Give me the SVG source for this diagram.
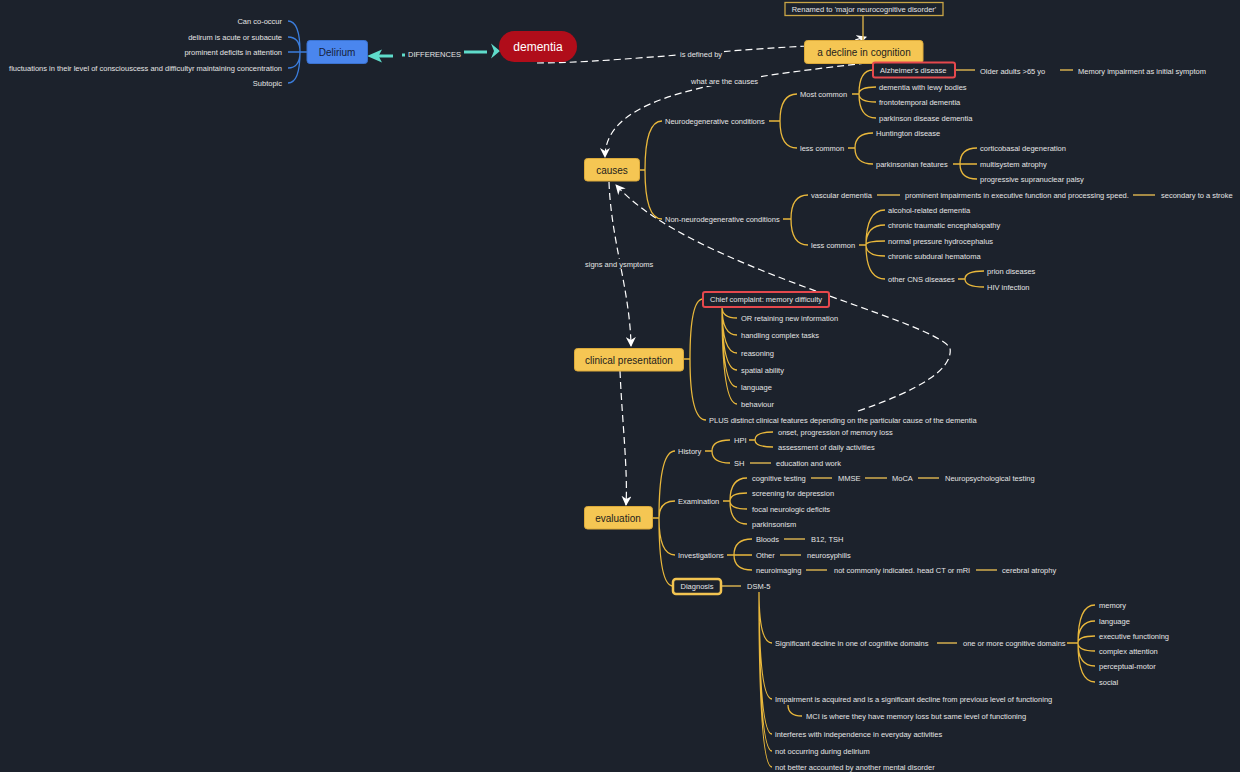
<svg xmlns="http://www.w3.org/2000/svg" width="1240" height="772" viewBox="0 0 1240 772">
<style>
.t{font-family:"Liberation Sans",Arial,sans-serif;font-size:7.5px;fill:#e4e4e4;dominant-baseline:central}
.te{text-anchor:end}
.c{fill:none;stroke:#e9b83c;stroke-width:1.3}
.s{fill:none;stroke:#a58a45;stroke-width:2}
.b{fill:none;stroke:#3b7ddc;stroke-width:1.3}
.r{fill:none;stroke:#fff;stroke-width:1.2;stroke-dasharray:7 4}
.tl{fill:none;stroke:#5fdccb;stroke-width:3}
.box{fill:#f5c653;stroke:#dcaa3a;stroke-width:1}
.bt{font-family:"Liberation Sans",Arial,sans-serif;font-size:10px;fill:#1d1d1d;text-anchor:middle;dominant-baseline:central}
.red{fill:#1c222c;stroke:#e5484d;stroke-width:2}
.bg{fill:#1c222c}
</style>
<defs>
<marker id="ar" markerUnits="userSpaceOnUse" markerWidth="10" markerHeight="10" refX="9" refY="5" orient="auto">
<path d="M0,0 L10,5 L0,10 L3,5 z" fill="#fff"/>
</marker>
</defs>
<rect width="1240" height="772" fill="#1c222c"/>

<g id="connectors">
<!-- relationships -->
<path class="r" d="M537 63 C600 63 700 52 806 46 Q852 42 866 37" marker-end="url(#ar)"/>
<path class="r" d="M866 63 C720 80 605 95 605 157" marker-end="url(#ar)"/>
<path class="r" d="M609 182 C611 240 630 290 631 346" marker-end="url(#ar)"/>
<path class="r" d="M620 371 C622 420 628 470 626 505" marker-end="url(#ar)"/>
<path class="r" d="M858 411 Q955 378 950 348 C930 318 690 268 616 185" marker-end="url(#ar)"/>
<!-- teal differences -->
<path class="tl" d="M378 56 H393 M402 55 H407 M464 52 H487"/>
<polygon points="367,56 382,49.5 378.5,56 382,62.5" fill="#5fdccb"/>
<polygon points="500,51 491,43.5 494,51 491,58.5" fill="#5fdccb"/>
<!-- renamed -->
<path d="M863 15 V40" stroke="#c9a546" stroke-width="1.5"/>
<!-- delirium -->
<path class="b" d="M307 52 H300 M300 52 Q300 21 288 21 M300 52 Q300 37 288 37 M300 52 H288 M300 52 Q300 68 288 68 M300 52 Q300 83 288 83"/>
<!-- causes -->
<path class="c" d="M639 170 H645 M645 170 Q645 121 662 121 M645 170 Q645 219 662 219"/>
<path class="c" d="M769 121 H780 M780 121 Q780 94 797 94 M780 121 Q780 148 797 148"/>
<path class="c" d="M852 94 H859 M859 94 Q859 70 873 70 M859 94 Q859 87 876 87 M859 94 Q859 102 876 102 M859 94 Q859 118 876 118"/>
<path class="s" d="M956 70 H975 M1060 70 H1073"/>
<path class="c" d="M848 148 H855 M855 148 Q855 133 873 133 M855 148 Q855 164 873 164"/>
<path class="c" d="M953 164 H960 M960 164 Q960 148 977 148 M960 164 H977 M960 164 Q960 179 977 179"/>
<path class="c" d="M783 219 H791 M791 219 Q791 195 808 195 M791 219 Q791 245 808 245"/>
<path class="s" d="M877 195 H900 M1133 195 H1155"/>
<path class="c" d="M859 245 H866 M866 245 Q866 210 885 210 M866 245 Q866 225 885 225 M866 245 Q866 241 885 241 M866 245 Q866 256 885 256 M866 245 Q866 279 885 279"/>
<path class="c" d="M958 279 H965 M965 279 Q965 271 984 271 M965 279 Q965 287 984 287"/>
<!-- clinical presentation -->
<path class="c" d="M684 359 H690 M690 359 Q690 299 703 299 M690 359 Q690 420 706 420"/>
<path class="c" d="M722 307 Q722 318 737 318 M722 307 Q722 335 737 335 M722 307 Q722 353 737 353 M722 307 Q722 370 737 370 M722 307 Q722 387 737 387 M722 307 Q722 404 737 404"/>
<!-- evaluation -->
<path class="c" d="M653 518 H659 M659 518 Q659 451 675 451 M659 518 Q659 501 675 501 M659 518 Q659 555 675 555 M659 518 Q659 586 673 586"/>
<path class="c" d="M705 451 H712 M712 451 Q712 440 730 440 M712 451 Q712 463 730 463"/>
<path class="c" d="M749 440 H755 M755 440 Q755 432 773 432 M755 440 Q755 447 773 447"/>
<path class="s" d="M750 463 H771"/>
<path class="c" d="M723 501 H730 M730 501 Q730 478 747 478 M730 501 Q730 493 747 493 M730 501 Q730 509 747 509 M730 501 Q730 524 747 524"/>
<path class="s" d="M811 478 H832 M865 478 H887 M918 478 H939"/>
<path class="c" d="M727 555 H734 M734 555 Q734 539 752 539 M734 555 H752 M734 555 Q734 570 752 570"/>
<path class="s" d="M784 539 H805 M780 555 H801 M806 570 H827 M976 570 H997"/>
<path class="s" d="M722 586 H741"/>
<path class="c" d="M759 592 Q759 643 772 643 M759 592 Q759 699 772 699 M759 592 Q759 734 772 734 M759 592 Q759 751 772 751 M759 592 Q759 767 772 767"/>
<path class="s" d="M937 643 H957"/>
<path class="c" d="M1067 643 H1078 M1078 643 Q1078 605 1095 605 M1078 643 Q1078 621 1095 621 M1078 643 Q1078 636 1095 636 M1078 643 Q1078 651 1095 651 M1078 643 Q1078 666 1095 666 M1078 643 Q1078 682 1095 682"/>
<path class="c" d="M788 705 Q788 716 802 716"/>
<!-- relationship labels -->
<rect class="bg" x="678" y="49" width="46" height="10"/>
<text class="t" x="680" y="54">is defined by</text>
<rect class="bg" x="689" y="76" width="72" height="10"/>
<text class="t" x="691" y="81">what are the causes</text>
<rect class="bg" x="584" y="259" width="72" height="10"/>
<text class="t" x="585" y="264">signs and ysmptoms</text>
<rect class="bg" x="405" y="49" width="58" height="10"/>
<text class="t" x="408" y="54">DIFFERENCES</text>
</g>

<g id="renamed"><rect x="785" y="2.5" width="158" height="13" fill="#1c222c" stroke="#c9a546" stroke-width="1.3"/><text class="t" x="864" y="9" text-anchor="middle">Renamed to 'major neurocognitive disorder'</text></g>
<g id="decline"><rect class="box" x="804.5" y="40.5" width="118.5" height="23" rx="3"/><text class="bt" x="864" y="52">a decline in cognition</text></g>
<g id="dementia"><rect x="499" y="31" width="78" height="31" rx="15.5" fill="#b00d1a"/><text class="bt" x="538" y="47" style="fill:#fff;font-size:12px">dementia</text></g>
<g id="delirium"><rect x="307" y="40.5" width="60.5" height="23" rx="3" fill="#4a86ee" stroke="#3a72d0"/><text class="bt" x="337" y="52" style="fill:#16213a">Delirium</text></g>
<g id="d1"><text class="t te" x="282" y="21">Can co-occur</text></g>
<g id="d2"><text class="t te" x="282" y="37">delirum is acute or subacute</text></g>
<g id="d3"><text class="t te" x="282" y="52">prominent deficits in attention</text></g>
<g id="d4"><text class="t te" x="282" y="68">fluctuations in their level of consciouscess and difficultyr maintaining concentration</text></g>
<g id="d5"><text class="t te" x="282" y="83">Subtopic</text></g>

<g id="causes"><rect class="box" x="584.5" y="158.5" width="55" height="22.5" rx="3"/><text class="bt" x="612" y="170">causes</text></g>
<g id="neuro"><text class="t" x="665" y="121">Neurodegenerative conditions</text></g>
<g id="most"><text class="t" x="800" y="94">Most common</text></g>
<g id="alz"><rect class="red" x="873" y="62.5" width="82" height="15" rx="2"/><text class="t" x="880" y="70">Alzheimer's disease</text></g>
<g id="older"><text class="t" x="980" y="71">Older adults &gt;65 yo</text></g>
<g id="memimp"><text class="t" x="1078" y="71">Memory impairment as initial symptom</text></g>
<g id="lewy"><text class="t" x="879" y="87">dementia with lewy bodies</text></g>
<g id="ftd"><text class="t" x="879" y="102">frontotemporal dementia</text></g>
<g id="pdd"><text class="t" x="879" y="118">parkinson disease dementia</text></g>
<g id="less1"><text class="t" x="800" y="148">less common</text></g>
<g id="hunt"><text class="t" x="876" y="133">Huntington disease</text></g>
<g id="parkf"><text class="t" x="876" y="164">parkinsonian features</text></g>
<g id="cbd"><text class="t" x="980" y="148">corticobasal degeneration</text></g>
<g id="msa"><text class="t" x="980" y="164">multisystem atrophy</text></g>
<g id="psp"><text class="t" x="980" y="179">progressive supranuclear palsy</text></g>
<g id="nonneuro"><text class="t" x="665" y="219">Non-neurodegenerative conditions</text></g>
<g id="vasc"><text class="t" x="811" y="195">vascular dementia</text></g>
<g id="promimp"><text class="t" x="905" y="195">prominent impairments in executive function and processing speed.</text></g>
<g id="stroke"><text class="t" x="1161" y="195">secondary to a stroke</text></g>
<g id="less2"><text class="t" x="811" y="245">less common</text></g>
<g id="alc"><text class="t" x="888" y="210">alcohol-related dementia</text></g>
<g id="cte"><text class="t" x="888" y="225">chronic traumatic encephalopathy</text></g>
<g id="nph"><text class="t" x="888" y="241">normal pressure hydrocephalus</text></g>
<g id="csh"><text class="t" x="888" y="256">chronic subdural hematoma</text></g>
<g id="cns"><text class="t" x="888" y="279">other CNS diseases</text></g>
<g id="prion"><text class="t" x="987" y="271">prion diseases</text></g>
<g id="hiv"><text class="t" x="987" y="287">HIV infection</text></g>

<g id="clinical"><rect class="box" x="574.5" y="348.5" width="109" height="22.5" rx="3"/><text class="bt" x="629" y="360">clinical presentation</text></g>
<g id="chief"><rect class="red" x="703" y="292" width="126" height="15" rx="2"/><text class="t" x="710" y="299">Chief complaint: memory difficulty</text></g>
<g id="or"><text class="t" x="741" y="318">OR retaining new information</text></g>
<g id="complex"><text class="t" x="741" y="335">handling complex tasks</text></g>
<g id="reason"><text class="t" x="741" y="353">reasoning</text></g>
<g id="spatial"><text class="t" x="741" y="370">spatial ability</text></g>
<g id="lang1"><text class="t" x="741" y="387">language</text></g>
<g id="behav"><text class="t" x="741" y="404">behaviour</text></g>
<g id="plus"><text class="t" x="709" y="420">PLUS distinct clinical features depending on the particular cause of the dementia</text></g>

<g id="evaluation"><rect class="box" x="584.5" y="506.5" width="68" height="22.5" rx="3"/><text class="bt" x="618" y="518">evaluation</text></g>
<g id="history"><text class="t" x="678" y="451">History</text></g>
<g id="hpi"><text class="t" x="734" y="440">HPI</text></g>
<g id="onset"><text class="t" x="778" y="432">onset, progression of memory loss</text></g>
<g id="adl"><text class="t" x="778" y="447">assessment of daily activities</text></g>
<g id="sh"><text class="t" x="734" y="463">SH</text></g>
<g id="edu"><text class="t" x="776" y="463">education and work</text></g>
<g id="exam"><text class="t" x="678" y="501">Examination</text></g>
<g id="cog"><text class="t" x="752" y="478">cognitive testing</text></g>
<g id="mmse"><text class="t" x="838" y="478">MMSE</text></g>
<g id="moca"><text class="t" x="892" y="478">MoCA</text></g>
<g id="npt"><text class="t" x="945" y="478">Neuropsychological testing</text></g>
<g id="dep"><text class="t" x="752" y="493">screening for depression</text></g>
<g id="focal"><text class="t" x="752" y="509">focal neurologic deficits</text></g>
<g id="park"><text class="t" x="752" y="524">parkinsonism</text></g>
<g id="invest"><text class="t" x="678" y="555">Investigations</text></g>
<g id="bloods"><text class="t" x="756" y="539">Bloods</text></g>
<g id="b12"><text class="t" x="811" y="539">B12, TSH</text></g>
<g id="other"><text class="t" x="756" y="555">Other</text></g>
<g id="syph"><text class="t" x="807" y="555">neurosyphilis</text></g>
<g id="neuroim"><text class="t" x="756" y="570">neuroimaging</text></g>
<g id="ct"><text class="t" x="834" y="570">not commonly indicated. head CT or mRI</text></g>
<g id="atrophy"><text class="t" x="1002" y="570">cerebral atrophy</text></g>
<g id="diag"><rect x="673" y="579" width="48" height="15" rx="3" fill="#1c222c" stroke="#f2c451" stroke-width="2.5"/><text class="t" x="697" y="586" text-anchor="middle">Diagnosis</text></g>
<g id="dsm"><text class="t" x="747" y="586">DSM-5</text></g>
<g id="sig"><text class="t" x="775" y="643">Significant decline in one of cognitive domains</text></g>
<g id="oneormore"><text class="t" x="963" y="643">one or more cognitive domains</text></g>
<g id="mem"><text class="t" x="1099" y="605">memory</text></g>
<g id="lang2"><text class="t" x="1099" y="621">language</text></g>
<g id="exec"><text class="t" x="1099" y="636">executive functioning</text></g>
<g id="att"><text class="t" x="1099" y="651">complex attention</text></g>
<g id="perc"><text class="t" x="1099" y="666">perceptual-motor</text></g>
<g id="soc"><text class="t" x="1099" y="682">social</text></g>
<g id="acq"><text class="t" x="775" y="699">Impairment is acquired and is a significant decline from previous level of functioning</text></g>
<g id="mci"><text class="t" x="806" y="716">MCI is where they have memory loss but same level of functioning</text></g>
<g id="indep"><text class="t" x="775" y="734">interferes with independence in everyday activities</text></g>
<g id="notdel"><text class="t" x="775" y="751">not occurring during delirium</text></g>
<g id="notbetter"><text class="t" x="775" y="767">not better accounted by another mental disorder</text></g>
</svg>
